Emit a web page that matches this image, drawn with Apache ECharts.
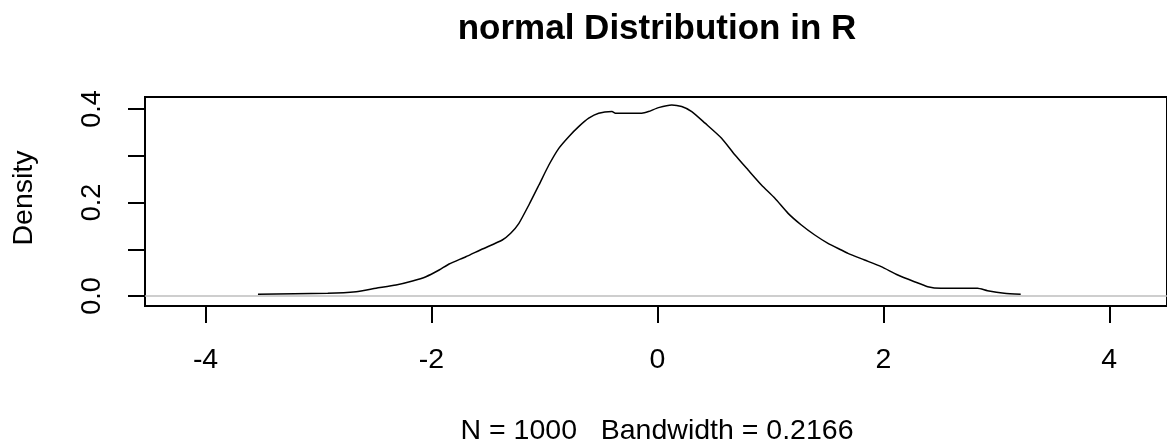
<!DOCTYPE html>
<html>
<head>
<meta charset="utf-8">
<script src="https://cdn.jsdelivr.net/npm/echarts@6/dist/echarts.min.js"></script>
<style>
  html, body { margin: 0; padding: 0; background: #fff; }
  #chart { width: 1167px; height: 442px; }
</style>
</head>
<body>
<div id="chart"></div>
<script>
// density curve points
const densX = [-3.536, -2.918, -2.667, -2.491, -2.314, -2.168, -2.049, -1.932, -1.844, -1.696,
  -1.550, -1.373, -1.299, -1.226, -1.138, -1.049, -0.961, -0.873, -0.785, -0.697,
  -0.608, -0.520, -0.402, -0.372, -0.138, -0.079, 0.010, 0.127, 0.215, 0.304,
  0.422, 0.568, 0.687, 0.803, 0.921, 1.040, 1.157, 1.274, 1.393, 1.510,
  1.628, 1.687, 1.834, 1.981, 2.128, 2.275, 2.393, 2.510, 2.834, 2.922,
  3.070, 3.216]
const densY = [0.0036, 0.0058, 0.0092, 0.0165, 0.0235, 0.0321, 0.0413, 0.0556, 0.0684, 0.0839,
  0.1005, 0.1198, 0.1341, 0.1555, 0.1947, 0.2374, 0.2802, 0.3159, 0.3409, 0.3623,
  0.3803, 0.3910, 0.3945, 0.3910, 0.3910, 0.3945, 0.4030, 0.4088, 0.4052, 0.3945,
  0.3697, 0.3376, 0.3016, 0.2695, 0.2374, 0.2089, 0.1768, 0.1519, 0.1305, 0.1127,
  0.0984, 0.0913, 0.0770, 0.0627, 0.0449, 0.0306, 0.0199, 0.0165, 0.0165, 0.0113,
  0.0058, 0.0036]

// tick positions
const xTicks = [-4, -2, 0, 2, 4]
const yTicks = [0, 0.1, 0.2, 0.3, 0.4]
const yLabels = [0, 0.2, 0.4]

const titleText = 'normal Distribution in R'
const subText = 'N = 1000   Bandwidth = 0.2166'
const yName = 'Density'

const font = '"Liberation Sans", Arial, sans-serif'

const myChart = echarts.init(document.getElementById('chart'), null, { renderer: 'canvas' })

myChart.setOption({
  animation: false,
  backgroundColor: '#fff',
  grid: {
    left: 145,
    top: 97,
    right: -3,
    bottom: 136,
    show: true,
    borderColor: '#000',
    borderWidth: 2,
    containLabel: false
  },
  xAxis: {
    type: 'value',
    min: -4.536,
    max: 4.511,
    axisLine: { show: false, onZero: false },
    splitLine: { show: false },
    axisTick: {
      show: true,
      customValues: xTicks,
      length: 17,
      lineStyle: { color: '#000', width: 2 }
    },
    axisLabel: {
      customValues: xTicks,
      margin: 40,
      color: '#000',
      fontSize: 28.5,
      fontFamily: font
    }
  },
  yAxis: {
    type: 'value',
    min: -0.0214,
    max: 0.4257,
    axisLine: { show: false, onZero: false },
    splitLine: { show: false },
    axisTick: {
      show: true,
      customValues: yTicks,
      length: 17,
      lineStyle: { color: '#000', width: 2 }
    },
    axisLabel: {
      customValues: yLabels,
      rotate: 90,
      margin: 39,
      color: '#000',
      fontSize: 27,
      fontFamily: font,
      formatter: (v) => Number(v).toFixed(1)
    }
  },
  graphic: [
    {
      type: 'text',
      x: 657,
      y: 29,
      style: {
        text: titleText,
        font: 'bold 35px ' + font,
        fill: '#000',
        textAlign: 'center',
        textVerticalAlign: 'middle'
      }
    },
    {
      type: 'text',
      x: 657,
      y: 431,
      style: {
        text: subText,
        font: '28.5px ' + font,
        fill: '#000',
        textAlign: 'center',
        textVerticalAlign: 'middle'
      }
    },
    {
      type: 'text',
      x: 24,
      y: 198,
      rotation: Math.PI / 2,
      style: {
        text: yName,
        font: '28.5px ' + font,
        fill: '#000',
        textAlign: 'center',
        textVerticalAlign: 'middle'
      }
    }
  ],
  series: [
    {
      type: 'line',
      data: densX.map((x, i) => [x, densY[i]]),
      showSymbol: false,
      symbol: 'none',
      smooth: 0.2,
      lineStyle: { color: '#000', width: 1.5 },
      markLine: {
        silent: true,
        symbol: 'none',
        label: { show: false },
        lineStyle: { color: '#bebebe', width: 1.5, type: 'solid' },
        data: [{ yAxis: 0 }]
      }
    }
  ]
})
</script>
</body>
</html>
